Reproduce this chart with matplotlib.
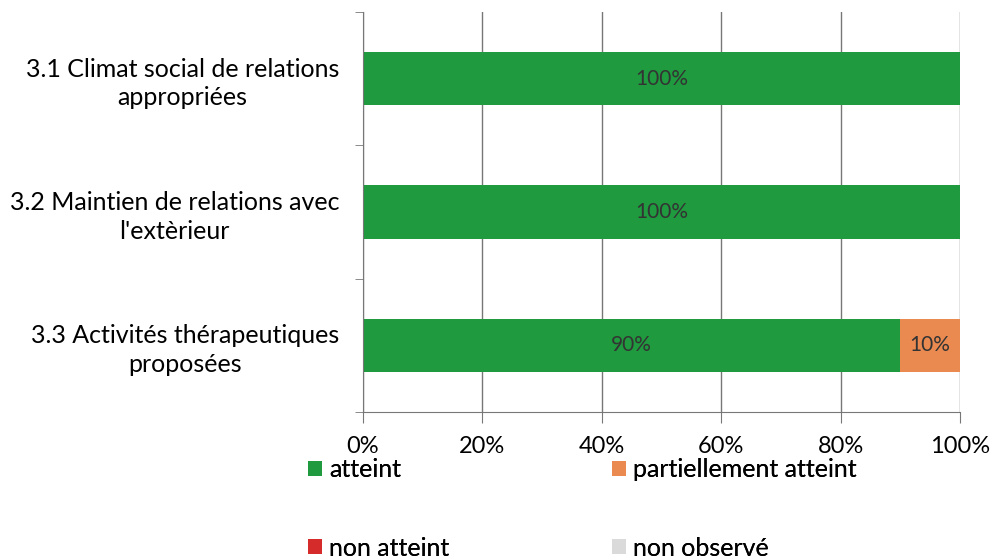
import numpy as np
import matplotlib.pyplot as plt
from matplotlib.patches import Patch

plt.rcParams['font.family'] = ['Lato', 'DejaVu Sans']

categories = ["3.1 Climat social de relations\nappropriées",
              "3.2 Maintien de relations avec\nl'extèrieur",
              "3.3 Activités thérapeutiques\nproposées"]
atteint = [100, 100, 90]
partiel = [0, 0, 10]
non_atteint = [0, 0, 0]
non_observe = [0, 0, 0]

series = [("atteint", atteint, "#1f9a3e"),
          ("partiellement atteint", partiel, "#ea8a50"),
          ("non atteint", non_atteint, "#d62b2b"),
          ("non observé", non_observe, "#dadada")]

fig = plt.figure(figsize=(9.91, 5.6), dpi=100)
ax = fig.add_axes([0.3663, 0.2643, 0.6024, 0.7143])

y = np.arange(len(categories))
left = np.zeros(len(categories))
for name, vals, col in series:
    vals = np.array(vals, dtype=float)
    ax.barh(y, vals, left=left, height=0.4, color=col, zorder=2)
    for yi, v, l in zip(y, vals, left):
        if v > 0:
            ax.text(l + v / 2, yi, f"{v:.0f}%", ha='center', va='center',
                    fontsize=15, color='#333333', zorder=3)
    left += vals

ax.set_xlim(0, 100)
ax.set_ylim(2.5, -0.5)
ax.set_xticks(np.arange(0, 101, 20))
ax.set_xticklabels([f"{t}%" for t in range(0, 101, 20)], fontsize=17)
ax.set_yticks(y)
ax.set_yticklabels(categories, fontsize=18, multialignment='center',
                   linespacing=1.3)
ax.tick_params(axis='y', which='major', length=0, pad=17)
ax.set_yticks([-0.5, 0.5, 1.5, 2.5], minor=True)
ax.tick_params(axis='y', which='minor', length=6, color='#777777')
ax.tick_params(axis='x', length=8, color='#777777', pad=9)

ax.grid(axis='x', color='#777777', linewidth=1, zorder=0)
for s in ['top', 'right']:
    ax.spines[s].set_visible(False)
for s in ['left', 'bottom']:
    ax.spines[s].set_color('#777777')

# legend entries laid out on a 2x2 grid below the axes
legend_pos = [(0.311, 0.161), (0.6176, 0.161), (0.311, 0.021), (0.6176, 0.021)]
for (name, _, col), (lx, ly) in zip(series, legend_pos):
    lg = fig.legend(handles=[Patch(facecolor=col, label=name)],
                    loc='center left', bbox_to_anchor=(lx, ly),
                    frameon=False, fontsize=18, handlelength=0.55,
                    handleheight=0.55, handletextpad=0.3,
                    borderaxespad=0, borderpad=0)
    fig.add_artist(lg)

fig.savefig("out.png", dpi=100)
